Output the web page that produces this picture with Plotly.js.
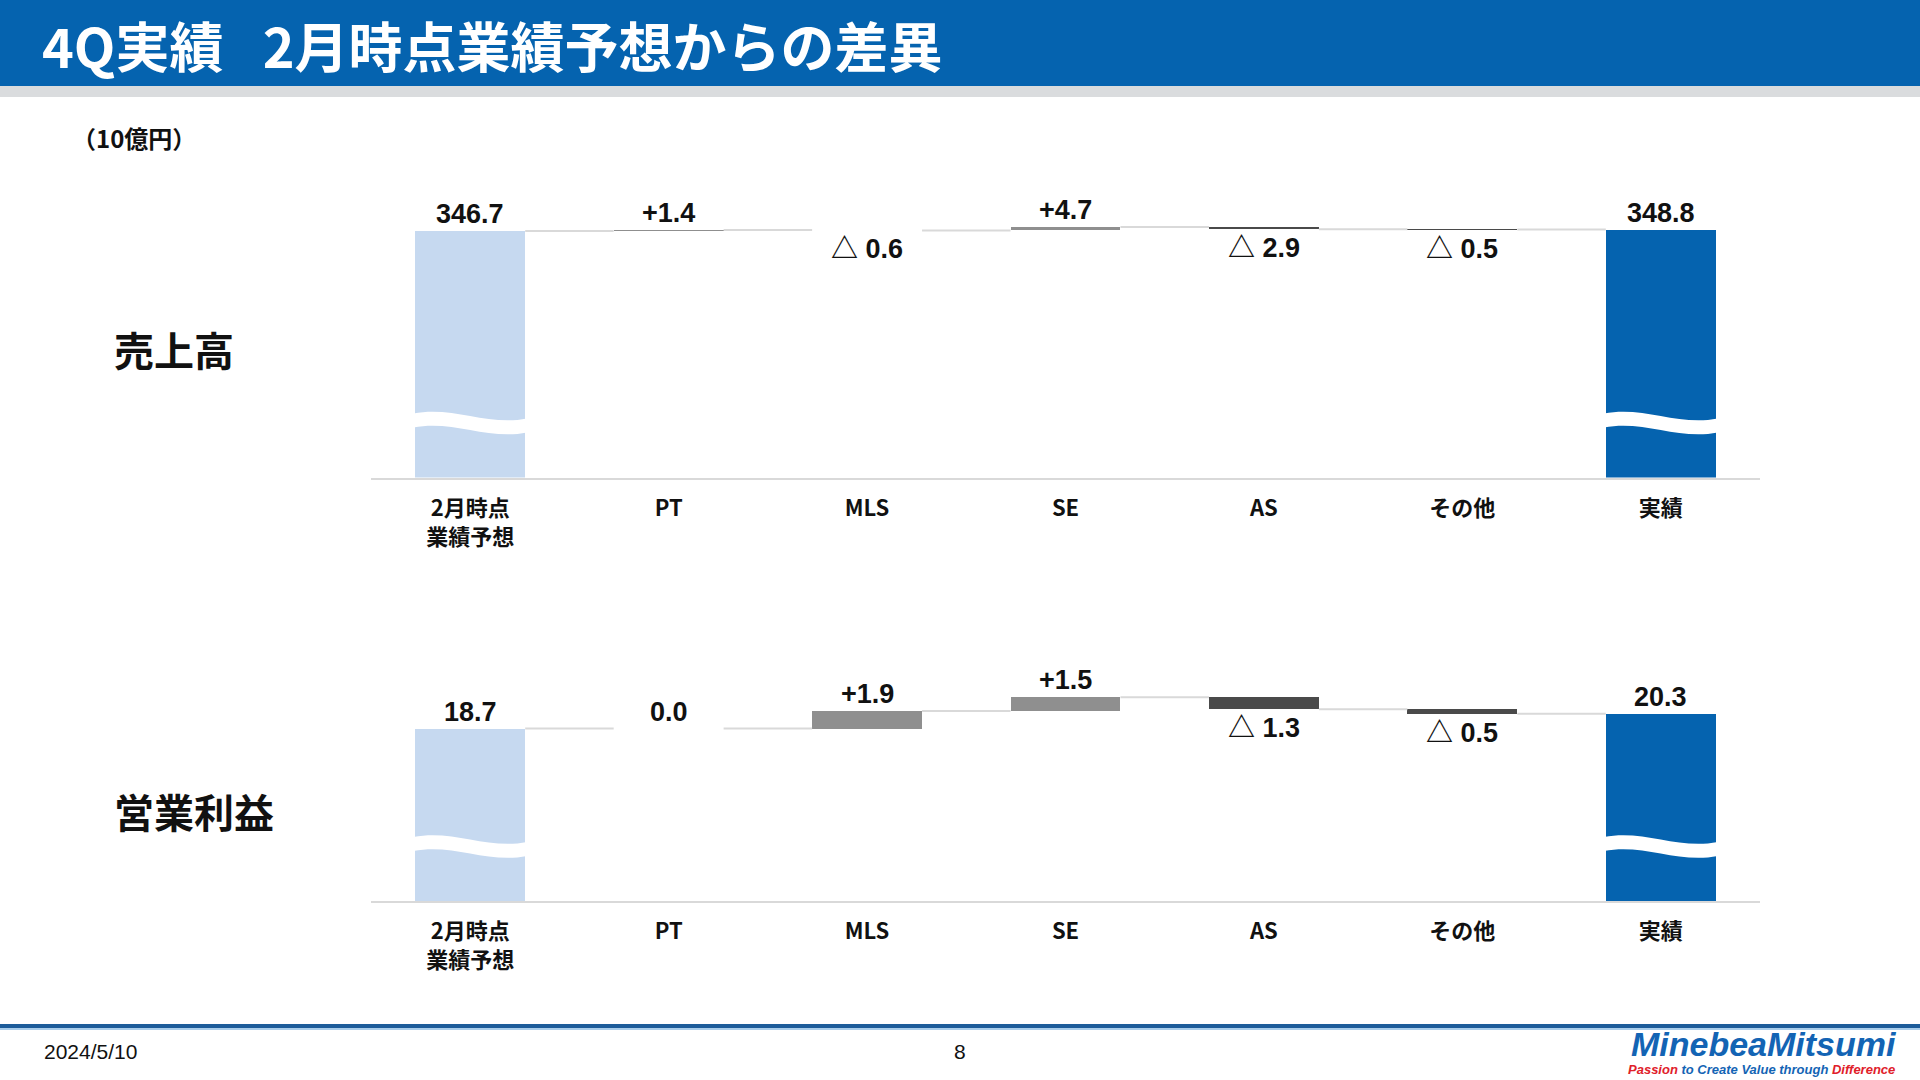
<!DOCTYPE html>
<html>
<head>
<meta charset="utf-8">
<script src="https://cdn.plot.ly/plotly-3.0.1.min.js"></script>
<style>
  html, body { margin: 0; padding: 0; background: #FFFFFF; }
  #chart { width: 1920px; height: 1080px; }
</style>
</head>
<body>
<div id="chart"></div>
<script>
// Chart data (10億円)
const categories = ['2月時点<br>業績予想', 'PT', 'MLS', 'SE', 'AS', 'その他', '実績'];
const measures = ['total', 'delta', 'delta', 'delta', 'delta', 'delta', 'total'];
const salesValues = [346.7, 1.4, -0.6, 4.7, -2.9, -0.5, 348.8];
const profitValues = [18.7, 0.0, 1.9, 1.5, -1.3, -0.5, 20.3];

const COLORS = {
  start: '#C6D9F0',
  end: '#0563AF',
  up: '#8F8F8F',
  down: '#4A4A4A',
  connector: '#D9D9D9',
  axis: '#D9D9D9'
};

const W = 1920, H = 1080;
const fx = px => px / W;
const fy = px => 1 - px / H;

// Pixel geometry of the two panels
const panels = [
  { values: salesValues, xa: 'x', ya: 'y', base: 477.5, top: 190, ppu: 0.711 },
  { values: profitValues, xa: 'x2', ya: 'y2', base: 901, top: 640, ppu: 9.22 }
];
const BAR_W = 0.554;

function fmtLabel(v, measure) {
  if (measure === 'total') return v.toFixed(1);
  if (v > 0) return '+' + v.toFixed(1);
  if (v < 0) return '△ ' + Math.abs(v).toFixed(1);
  return v.toFixed(1);
}

// Wave "break" drawn across the total bars
function wavePath(xc, ppu) {
  const x0 = xc - BAR_W / 2 - 0.01, x1 = xc + BAR_W / 2 + 0.01, w = x1 - x0;
  const y = p => (p / ppu).toFixed(3);
  return `M ${x0},${y(64)} C ${x0 + 0.35 * w},${y(72)} ${x0 + 0.65 * w},${y(51)} ${x1},${y(59)} ` +
         `L ${x1},${y(45)} C ${x0 + 0.65 * w},${y(37)} ${x0 + 0.35 * w},${y(58)} ${x0},${y(50)} Z`;
}

const traces = [];
const annotations = [];
const shapes = [];
const labelFont = { family: 'Liberation Sans, Arial, Noto Sans CJK JP', size: 27, color: '#111111', weight: 700 };

panels.forEach(p => {
  const bases = [], heights = [], colors = [];
  const connX = [], connY = [];
  let running = 0;
  p.values.forEach((v, i) => {
    let b;
    if (measures[i] === 'total') {
      b = 0;
      colors.push(i === 0 ? COLORS.start : COLORS.end);
      running = v;
    } else {
      b = running;
      colors.push(v >= 0 ? COLORS.up : COLORS.down);
      running += v;
    }
    bases.push(b);
    heights.push(v);

    // connector to next bar
    if (i < p.values.length - 1) {
      connX.push(i + BAR_W / 2, i + 1 - BAR_W / 2, null);
      connY.push(running, running, null);
    }

    // value label
    const top = b + Math.max(0, v);
    const bottom = b + Math.min(0, v);
    const neg = measures[i] !== 'total' && v < 0;
    annotations.push({
      x: i, y: neg ? bottom : top, xref: p.xa, yref: p.ya,
      text: fmtLabel(v, measures[i]), showarrow: false,
      xanchor: 'center', yanchor: neg ? 'top' : 'bottom',
      yshift: neg ? -2 : 0,
      font: labelFont
    });

    if (measures[i] === 'total') {
      shapes.push({
        type: 'path', xref: p.xa, yref: p.ya, path: wavePath(i, p.ppu),
        fillcolor: '#FFFFFF', line: { width: 0 }, layer: 'above'
      });
    }
  });

  traces.push({
    type: 'scatter', mode: 'lines', x: connX, y: connY,
    xaxis: p.xa, yaxis: p.ya,
    line: { color: COLORS.connector, width: 2 },
    hoverinfo: 'skip', showlegend: false
  });
  traces.push({
    type: 'bar', x: p.values.map((_, i) => i), y: heights, base: bases,
    xaxis: p.xa, yaxis: p.ya, width: BAR_W,
    marker: { color: colors, line: { width: 0 } },
    hoverinfo: 'skip', showlegend: false
  });
});

function xAxis(anchor) {
  return {
    anchor: anchor,
    domain: [fx(371), fx(1760)],
    range: [-0.5, 6.5],
    tickvals: categories.map((_, i) => i),
    ticktext: categories,
    tickfont: { family: 'Noto Sans CJK JP', size: 22, color: '#111111', weight: 700 },
    ticks: '',
    ticklabelstandoff: 10,
    showline: true, linecolor: COLORS.axis, linewidth: 2,
    showgrid: false, zeroline: false, fixedrange: true
  };
}
function yAxis(anchor, p) {
  return {
    anchor: anchor,
    domain: [fy(p.base), fy(p.top)],
    range: [0, (p.base - p.top) / p.ppu],
    visible: false, fixedrange: true
  };
}

// Slide decoration
shapes.push(
  { type: 'rect', xref: 'paper', yref: 'paper', x0: 0, x1: 1, y0: fy(86), y1: 1, fillcolor: '#0563AF', line: { width: 0 } },
  { type: 'rect', xref: 'paper', yref: 'paper', x0: 0, x1: 1, y0: fy(97), y1: fy(86), fillcolor: '#DADCDE', line: { width: 0 } },
  { type: 'rect', xref: 'paper', yref: 'paper', x0: 0, x1: 1, y0: fy(1028), y1: fy(1024), fillcolor: '#1D5C9A', line: { width: 0 } },
  { type: 'rect', xref: 'paper', yref: 'paper', x0: 0, x1: 1, y0: fy(1030), y1: fy(1028), fillcolor: '#A9CDEB', line: { width: 0 } }
);

const cjk = 'Noto Sans CJK JP';
annotations.push(
  { xref: 'paper', yref: 'paper', x: fx(40), y: fy(44), xanchor: 'left', yanchor: 'middle', showarrow: false,
    text: '4Q実績\u2002 2月時点業績予想からの差異', font: { family: cjk, size: 54, color: '#FFFFFF', weight: 700 } },
  { xref: 'paper', yref: 'paper', x: fx(70), y: fy(137), xanchor: 'left', yanchor: 'middle', showarrow: false,
    text: '（10億円）', font: { family: cjk, size: 24, color: '#111111', weight: 700 } },
  { xref: 'paper', yref: 'paper', x: fx(112), y: fy(349), xanchor: 'left', yanchor: 'middle', showarrow: false,
    text: '売上高', font: { family: cjk, size: 40, color: '#111111', weight: 700 } },
  { xref: 'paper', yref: 'paper', x: fx(112), y: fy(811), xanchor: 'left', yanchor: 'middle', showarrow: false,
    text: '営業利益', font: { family: cjk, size: 40, color: '#111111', weight: 700 } },
  { xref: 'paper', yref: 'paper', x: fx(42), y: fy(1051), xanchor: 'left', yanchor: 'middle', showarrow: false,
    text: '2024/5/10', font: { family: 'Liberation Sans', size: 21, color: '#111111' } },
  { xref: 'paper', yref: 'paper', x: fx(960), y: fy(1051), xanchor: 'center', yanchor: 'middle', showarrow: false,
    text: '8', font: { family: 'Liberation Sans', size: 21, color: '#111111' } },
  { xref: 'paper', yref: 'paper', x: fx(1899), y: fy(1044), xanchor: 'right', yanchor: 'middle', showarrow: false,
    text: '<i>MinebeaMitsumi</i>', font: { family: 'Liberation Sans', size: 34, color: '#1364B4', weight: 700 } },
  { xref: 'paper', yref: 'paper', x: fx(1897), y: fy(1069), xanchor: 'right', yanchor: 'middle', showarrow: false,
    text: '<i><span style="color:#E0202A">Passion</span> to Create Value through <span style="color:#E0202A">Difference</span></i>',
    font: { family: 'Liberation Sans', size: 13, color: '#1364B4', weight: 700 } }
);

const layout = {
  width: W, height: H,
  margin: { t: 0, r: 0, b: 0, l: 0 },
  paper_bgcolor: '#FFFFFF',
  plot_bgcolor: 'rgba(0,0,0,0)',
  showlegend: false,
  bargap: 0,
  xaxis: xAxis('y'),
  yaxis: yAxis('x', panels[0]),
  xaxis2: xAxis('y2'),
  yaxis2: yAxis('x2', panels[1]),
  shapes: shapes,
  annotations: annotations
};

Plotly.newPlot('chart', traces, layout, { displayModeBar: false, staticPlot: true });
</script>
</body>
</html>
